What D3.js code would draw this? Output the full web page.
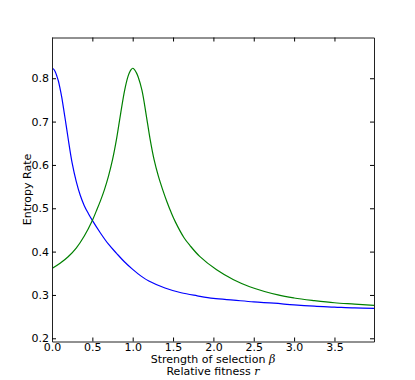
<!DOCTYPE html>
<html><head><meta charset="utf-8">
<script src="https://cdn.jsdelivr.net/npm/d3@7"></script>
<style>html,body{margin:0;padding:0;background:#fff;}svg{display:block;font-family:"DejaVu Sans",sans-serif;}</style>
</head><body>
<script>
// Blue curve: entropy rate vs strength of selection beta
const betaX = [0,0.02,0.04,0.06,0.08,0.1,0.12,0.15,0.175,0.2,0.25,0.3,0.35,0.4,0.45,0.5,0.6,0.7,0.8,0.9,1.0,1.1,1.2,1.4,1.6,1.8,2.0,2.25,2.5,2.75,3.0,3.25,3.5,3.75,3.99];
const betaY = [0.823,0.821,0.815,0.805,0.793,0.776,0.757,0.722,0.692,0.661,0.604,0.562,0.530,0.506,0.488,0.472,0.443,0.417,0.396,0.376,0.359,0.344,0.332,0.316,0.305,0.298,0.292,0.288,0.284,0.281,0.277,0.274,0.272,0.270,0.269];
// Green curve: entropy rate vs relative fitness r
const rX = [0,0.1,0.2,0.3,0.4,0.5,0.55,0.6,0.65,0.7,0.75,0.8,0.85,0.9,0.94,0.96,0.98,1.0,1.022,1.045,1.068,1.115,1.165,1.215,1.265,1.318,1.371,1.424,1.477,1.53,1.636,1.71,1.83,2.04,2.25,2.45,2.8,3.0,3.25,3.5,3.75,3.99];
const rY = [0.361,0.373,0.388,0.408,0.436,0.472,0.494,0.517,0.543,0.574,0.612,0.660,0.718,0.772,0.803,0.813,0.820,0.823,0.820,0.813,0.803,0.772,0.718,0.660,0.612,0.574,0.543,0.515,0.490,0.468,0.432,0.414,0.389,0.358,0.335,0.319,0.300,0.293,0.287,0.282,0.279,0.276];
const xTicks = [0,0.5,1.0,1.5,2.0,2.5,3.0,3.5];
const yTicks = [0.2,0.3,0.4,0.5,0.6,0.7,0.8];

(function(){
const W=415,H=380;
const L=52,R=374,T=37.5,B=341.5;
const svg=d3.select("body").append("svg").attr("width",W).attr("height",H);
const x=d3.scaleLinear().domain([0,3.99]).range([L,R]);
const y=d3.scaleLinear().domain([0.1926,0.894]).range([B,T]);

svg.append("clipPath").attr("id","c").append("rect").attr("x",L).attr("y",T).attr("width",R-L).attr("height",B-T);
const line=d3.line().x(d=>x(d[0])).y(d=>y(d[1])).curve(d3.curveCatmullRom.alpha(0.5));
const g=svg.append("g").attr("clip-path","url(#c)");
g.append("path").datum(betaX.map((v,i)=>[v,betaY[i]])).attr("d",line).attr("fill","none").attr("stroke","#0000ff").attr("stroke-width",1.2);
g.append("path").datum(rX.map((v,i)=>[v,rY[i]])).attr("d",line).attr("fill","none").attr("stroke","#008000").attr("stroke-width",1.2);

const fs=11;
const axB=svg.append("g").attr("transform",`translate(0,${B})`).call(d3.axisBottom(x).tickValues(xTicks).tickFormat(d3.format(".1f")).tickSizeInner(-4).tickSizeOuter(0).tickPadding(3));
const axT=svg.append("g").attr("transform",`translate(0,${T})`).call(d3.axisTop(x).tickValues(xTicks).tickFormat("").tickSizeInner(-4).tickSizeOuter(0));
const axL=svg.append("g").attr("transform",`translate(${L},0)`).call(d3.axisLeft(y).tickValues(yTicks).tickFormat(d3.format(".1f")).tickSizeInner(-4).tickSizeOuter(0).tickPadding(3));
const axR=svg.append("g").attr("transform",`translate(${R},0)`).call(d3.axisRight(y).tickValues(yTicks).tickFormat("").tickSizeInner(-4).tickSizeOuter(0));
[axB,axT,axL,axR].forEach(a=>{a.selectAll("text").attr("font-size",fs).attr("font-family","DejaVu Sans").attr("fill","#000");a.selectAll("line").attr("stroke","#000");a.select(".domain").attr("stroke","#222");});
axB.selectAll("text").attr("dy","0.71em").attr("y",1.5);

svg.append("text").attr("x",(L+R)/2).attr("y",362.5).attr("text-anchor","middle").attr("font-size",fs)
  .html('Strength of selection <tspan font-style="italic" font-family="DejaVu Serif">β</tspan>');
svg.append("text").attr("x",(L+R)/2).attr("y",374.5).attr("text-anchor","middle").attr("font-size",fs)
  .html('Relative fitness <tspan font-style="italic" font-family="DejaVu Serif">r</tspan>');
svg.append("text").attr("transform",`translate(31,${(T+B)/2}) rotate(-90)`).attr("text-anchor","middle").attr("font-size",fs).text("Entropy Rate");
})();
</script>
</body></html>
